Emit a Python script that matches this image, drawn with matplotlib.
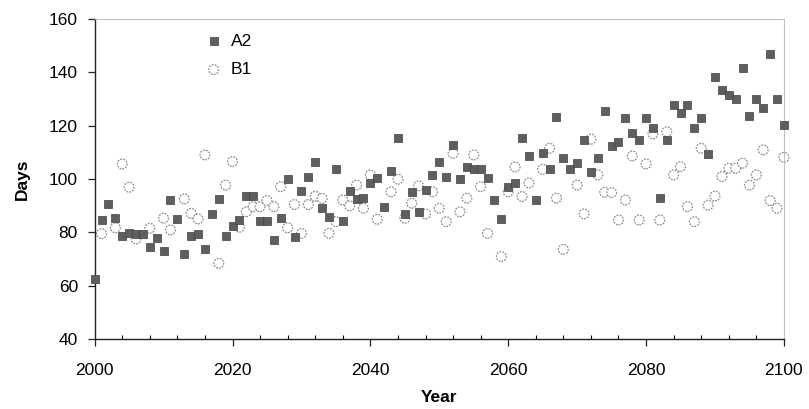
import numpy as np
import matplotlib
matplotlib.use("Agg")
import matplotlib.pyplot as plt
from matplotlib.ticker import MultipleLocator

# one value per year, 2000-2100 (nan = point hidden behind an A2 marker)
years = np.arange(2000, 2101)

a2_days = [
    62.5, 84.6, 90.5, 85.3, 78.7, 79.6, 79.4, 79.4, 74.6, 77.8,
    73.1, 92.1, 85.0, 71.8, 78.7, 79.4, 73.7, 86.9, 92.5, 78.7,
    82.5, 84.6, 93.6, 93.6, 84.2, 84.2, 77.1, 85.3, 99.9, 78.1,
    95.6, 100.9, 106.5, 89.0, 85.6, 103.6, 84.2, 95.6, 92.4, 92.8,
    98.6, 100.3, 89.6, 103.1, 115.3, 86.9, 95.2, 87.7, 95.9, 101.5,
    106.5, 100.9, 112.7, 99.9, 104.4, 103.6, 103.6, 100.3, 92.1, 84.9,
    97.1, 98.6, 115.3, 108.6, 92.1, 109.6, 103.6, 123.1, 107.8, 103.6,
    106.1, 114.6, 102.7, 107.8, 125.6, 112.4, 114.0, 122.8, 117.1, 114.6,
    122.8, 119.0, 92.8, 114.6, 127.7, 124.6, 127.7, 119.0, 122.8, 109.4,
    138.1, 133.4, 131.5, 129.9, 141.5, 123.4, 129.9, 126.7, 146.9, 129.9,
    120.2,
]

nan = np.nan
b1_days = [
    nan, 79.5, nan, 81.7, 105.6, 96.9, 77.5, nan, 81.5, nan,
    85.3, 80.9, nan, 92.5, 87.1, 85.0, 109.0, nan, 68.4, 97.7,
    106.5, 81.9, 87.7, 89.6, 89.6, 91.9, 89.6, 97.1, 81.7, 90.4,
    79.6, 90.4, 93.5, 92.7, 79.6, 84.0, 92.1, 89.9, 97.7, 89.0,
    101.5, 84.9, nan, 95.2, 99.9, 85.3, 90.9, 97.4, 86.9, 95.2,
    89.0, 84.0, 109.6, 87.7, 92.8, 109.0, 97.1, 79.6, nan, 70.9,
    95.2, 104.5, 93.4, 98.5, nan, 103.6, 111.5, 92.8, 73.6, nan,
    97.7, 86.9, 114.9, 101.5, 95.0, 94.9, 84.6, 92.1, 108.6, 84.6,
    105.6, 116.9, 84.6, 117.7, 101.5, 104.6, 89.6, 84.0, 111.5, 90.2,
    93.6, 100.9, 104.0, 104.0, 105.9, 97.7, 101.5, 110.9, 91.9, 89.0,
    108.1,
]

plt.rcParams['font.family'] = ['Liberation Sans', 'DejaVu Sans']

fig, ax = plt.subplots(figsize=(8.09, 4.09), dpi=100)
fig.subplots_adjust(left=0.117, right=0.969, bottom=0.171, top=0.954)

b1 = ax.scatter(years, b1_days, s=50, facecolors='white', edgecolors='#8c8c8c',
                linewidths=0.9, linestyles=(0, (1.5, 1.0)), zorder=2, clip_on=False)
a2 = ax.scatter(years, a2_days, marker='s', s=36, c='#5e5e5e', edgecolors='#404040',
                linewidths=0.5, zorder=3, clip_on=False)

ax.set_xlim(2000, 2100)
ax.set_ylim(40, 160)
ax.xaxis.set_major_locator(MultipleLocator(20))
ax.xaxis.set_minor_locator(MultipleLocator(4))
ax.yaxis.set_major_locator(MultipleLocator(20))

ax.tick_params(axis='both', which='major', labelsize=12.5, width=0.9, length=5, color='#222222')
ax.tick_params(axis='x', which='major', pad=12)
ax.tick_params(axis='y', which='major', pad=7)
ax.tick_params(axis='x', which='minor', direction='in', length=3, width=0.8)

for side in ['left', 'bottom']:
    ax.spines[side].set_color('#222222')
    ax.spines[side].set_linewidth(1.0)
for side in ['top', 'right']:
    ax.spines[side].set_color('#c0c0c0')
    ax.spines[side].set_linewidth(0.8)

ax.set_xlabel('Year', fontsize=12.5, fontweight='bold', labelpad=9)
ax.set_ylabel('Days', fontsize=12.5, fontweight='bold', labelpad=14)

ax.legend([a2, b1], ['A2', 'B1'], loc='upper left', bbox_to_anchor=(0.15, 0.975),
          frameon=False, fontsize=12.5, handlelength=1.0, handletextpad=0.5,
          labelspacing=0.75, borderaxespad=0, scatterpoints=1)

fig.savefig('out.png', dpi=100)
